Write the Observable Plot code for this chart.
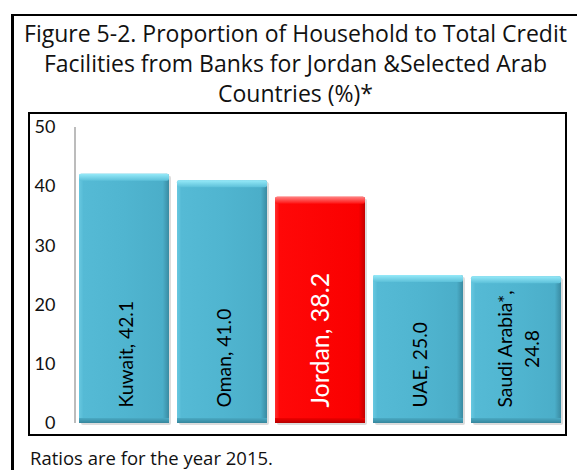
<!DOCTYPE html>
<html><head><meta charset="utf-8">
<script src="https://cdn.jsdelivr.net/npm/d3@7"></script>
<script src="https://cdn.jsdelivr.net/npm/@observablehq/plot@0.6"></script>
<style>
body{margin:0;background:#fff;font-family:Lato,"Open Sans",sans-serif;color:#111;}
#wrap{position:relative;width:577px;height:470px;overflow:hidden;}
#outer{position:absolute;left:11px;top:14px;width:620px;height:520px;border-left:3px solid #000;border-top:2px solid #000;}
#title{position:absolute;left:14px;top:18px;width:563px;text-align:center;font-family:"Open Sans",sans-serif;font-size:21px;line-height:30px;white-space:nowrap;}
#inner{position:absolute;left:28px;top:112px;width:535px;height:320px;border:2px solid #000;}
#chart{position:absolute;left:30px;top:114px;}
#caption{position:absolute;left:30px;top:446px;font-family:"Open Sans",sans-serif;font-size:17px;line-height:20px;white-space:nowrap;}
.bl{display:inline-block;width:0;height:0;vertical-align:baseline;}
</style></head>
<body>
<div id="wrap">
  <div id="outer"></div>
  <div id="title"><span id="t1">Figure 5-2. Proportion of Household to Total Credit</span><span class="bl" id="tb"></span><br><span>Facilities from Banks for Jordan &amp;Selected Arab</span><br><span>Countries (%)*</span></div>
  <div id="inner"></div>
  <div id="chart"></div>
  <div id="caption"><span id="cap">Ratios are for the year 2015.</span><span class="bl" id="cb"></span></div>
</div>
<script>
const countries = ["Kuwait", "Oman", "Jordan", "UAE", "Saudi Arabia*"];
const values = [42.1, 41.0, 38.2, 25.0, 24.8];
const highlighted = ["Jordan"];
const yTicks = [0, 10, 20, 30, 40, 50];

const data = countries.map((country, i) => ({country, value: values[i], hi: highlighted.includes(country)}));
const label = d => {
  const v = d.value.toFixed(1);
  return d.country.length > 10 ? `${d.country},\n${v}` : `${d.country}, ${v}`;
};
const isBlue = d => !d.hi, isRed = d => d.hi;

function gradients() {
  const ns = "http://www.w3.org/2000/svg";
  const defs = document.createElementNS(ns, "defs");
  const mk = (id, x2, y2, stops) => {
    const g = document.createElementNS(ns, "linearGradient");
    g.setAttribute("id", id);
    g.setAttribute("x1", "0"); g.setAttribute("y1", "0");
    g.setAttribute("x2", x2); g.setAttribute("y2", y2);
    for (const [o, c] of stops) {
      const s = document.createElementNS(ns, "stop");
      s.setAttribute("offset", o); s.setAttribute("stop-color", c);
      g.appendChild(s);
    }
    defs.appendChild(g);
  };
  mk("gBlue", "1", "0", [[0, "#68c8e0"], [0.05, "#55bad5"], [0.5, "#50b5d0"], [0.93, "#4baec9"], [1, "#3a8ba2"]]);
  mk("gRed", "1", "0", [[0, "#ff3030"], [0.05, "#ff0808"], [0.93, "#fa0000"], [1, "#c40000"]]);
  mk("gBlueTop", "0", "1", [[0, "#96eaf9"], [1, "#5cc0d9"]]);
  mk("gRedTop", "0", "1", [[0, "#ff8080"], [1, "#ff1010"]]);
  mk("gBlueBot", "0", "1", [[0, "#4aaac4"], [1, "#36869c"]]);
  mk("gRedBot", "0", "1", [[0, "#f00000"], [1, "#b50000"]]);
  return defs;
}

function axisLine(index, scales, values, dims) {
  const ns = "http://www.w3.org/2000/svg";
  const l = document.createElementNS(ns, "line");
  const x = dims.marginLeft;
  l.setAttribute("x1", x); l.setAttribute("x2", x);
  l.setAttribute("y1", scales.y(yTicks[yTicks.length - 1]));
  l.setAttribute("y2", scales.y(yTicks[0]));
  l.setAttribute("stroke", "#a6a6a6");
  l.setAttribute("stroke-width", "1.5");
  return l;
}

const plot = Plot.plot({
  width: 535, height: 320,
  marginLeft: 45, marginRight: 0, marginTop: 13, marginBottom: 11,
  style: {fontFamily: "Lato, sans-serif", fontSize: "18px", color: "#111", background: "transparent", overflow: "visible"},
  x: {domain: countries, paddingInner: 0.08, paddingOuter: 0.02, axis: null},
  y: {domain: [0, 50], ticks: yTicks, tickSize: 0, tickPadding: 20, label: null, tickFormat: d => d},
  marks: [
    gradients,
    axisLine,
    Plot.barY(data, {x: "country", y: "value", fill: "#9a9a9a", fillOpacity: 0.35, dx: 2, dy: 2, rx: 2}),
    Plot.barY(data, {filter: isBlue, x: "country", y: "value", fill: "url(#gBlue)", rx: 2}),
    Plot.barY(data, {filter: isRed, x: "country", y: "value", fill: "url(#gRed)", rx: 2}),
    Plot.barY(data, {filter: isBlue, x: "country", y1: "value", y2: "value", insetBottom: -7, fill: "url(#gBlueTop)", rx: 2}),
    Plot.barY(data, {filter: isRed, x: "country", y1: "value", y2: "value", insetBottom: -7, fill: "url(#gRedTop)", rx: 2}),
    Plot.barY(data, {filter: isBlue, x: "country", y1: d => 0, y2: d => 0, insetTop: -5, fill: "url(#gBlueBot)"}),
    Plot.barY(data, {filter: isRed, x: "country", y1: d => 0, y2: d => 0, insetTop: -5, fill: "url(#gRedBot)"}),
    Plot.text(data, {filter: isBlue, x: "country", y: d => 0, text: label, rotate: -90, textAnchor: "start", lineAnchor: "middle", lineHeight: 1.4, dy: -16, fontSize: 19.3, fill: "#000"}),
    Plot.text(data, {filter: isRed, x: "country", y: d => 0, text: label, rotate: -90, textAnchor: "start", lineAnchor: "middle", dy: -16, fontSize: 25, fill: "#fff"})
  ]
});
document.getElementById("chart").appendChild(plot);

// center the second line of wrapped labels under the first (as in the original)
plot.querySelectorAll("text").forEach(t => {
  const ts = t.querySelectorAll("tspan");
  if (ts.length === 2) {
    const l1 = ts[0].getComputedTextLength(), l2 = ts[1].getComputedTextLength();
    ts[1].setAttribute("x", (l1 - l2) / 2);
  }
});

// fit title and caption text to the widths and baselines of the original
function fit(boxId, spanId, markerId, targetWidth, baseline) {
  const box = document.getElementById(boxId), span = document.getElementById(spanId);
  const fs0 = parseFloat(getComputedStyle(box).fontSize);
  const w = span.getBoundingClientRect().width;
  box.style.fontSize = (fs0 * targetWidth / w) + "px";
  const wrapTop = document.getElementById("wrap").getBoundingClientRect().top;
  const b = document.getElementById(markerId).getBoundingClientRect().bottom - wrapTop;
  box.style.top = (parseFloat(box.style.top || getComputedStyle(box).top) + baseline - b) + "px";
}
fit("title", "t1", "tb", 543, 41.5);
fit("caption", "cap", "cb", 243, 465);
</script>
</body></html>
